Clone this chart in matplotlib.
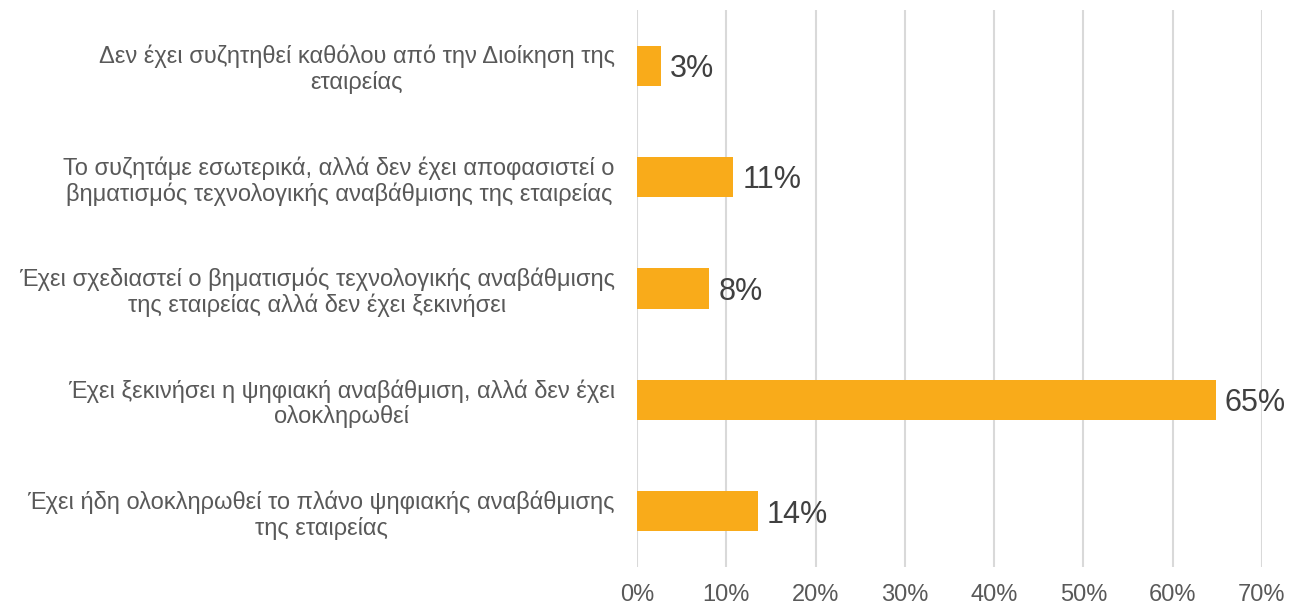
import matplotlib.pyplot as plt
from matplotlib.ticker import PercentFormatter

plt.rcParams['font.family'] = ['Liberation Sans', 'DejaVu Sans']

# κατηγορίες (από πάνω προς τα κάτω)
katigories = [
    'Δεν έχει συζητηθεί καθόλου από την Διοίκηση της\nεταιρείας',
    'Το συζητάμε εσωτερικά, αλλά δεν έχει αποφασιστεί ο\nβηματισμός τεχνολογικής αναβάθμισης της εταιρείας',
    'Έχει σχεδιαστεί ο βηματισμός τεχνολογικής αναβάθμισης\nτης εταιρείας αλλά δεν έχει ξεκινήσει',
    'Έχει ξεκινήσει η ψηφιακή αναβάθμιση, αλλά δεν έχει\nολοκληρωθεί',
    'Έχει ήδη ολοκληρωθεί το πλάνο ψηφιακής αναβάθμισης\nτης εταιρείας',
]
pososta = [0.027, 0.108, 0.081, 0.648, 0.135]
etiketes = ['3%', '11%', '8%', '65%', '14%']

grey = '#595959'

fig = plt.figure(figsize=(12.93, 6.07), dpi=100)
ax = fig.add_axes([0.4927, 0.066, 0.4833, 0.9175])

y = range(len(katigories))
ax.barh(y, pososta, height=0.36, color='#F9AB1A', zorder=3)
for i, v in enumerate(pososta):
    ax.text(v + 0.01, i + 0.03, etiketes[i], va='center', ha='left',
            fontsize=22, color='#404040', clip_on=False)

ax.set_yticks(list(y))
ax.set_yticklabels(katigories, fontsize=17, color=grey, multialignment='center',
                   linespacing=1.15)
ax.set_ylim(-0.5, len(katigories) - 0.5)
ax.invert_yaxis()

ax.set_xlim(0, 0.7)
ax.set_xticks([i / 10 for i in range(8)])
ax.xaxis.set_major_formatter(PercentFormatter(1.0, decimals=0))
ax.tick_params(axis='x', labelsize=17, labelcolor=grey, length=0, pad=12)
ax.tick_params(axis='y', length=0, pad=16)
ax.grid(axis='x', color='#D9D9D9', linewidth=1.5, zorder=0)
for s in ax.spines.values():
    s.set_visible(False)

fig.savefig('out.png', dpi=100)
